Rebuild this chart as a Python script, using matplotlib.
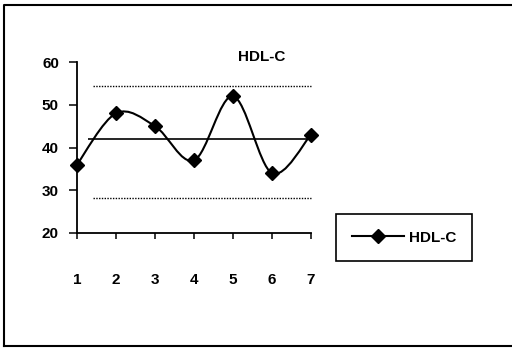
import matplotlib
matplotlib.use("Agg")
import matplotlib.pyplot as plt
import numpy as np
from matplotlib.path import Path
from matplotlib.patches import PathPatch
from matplotlib.lines import Line2D

plt.rcParams['font.family'] = ['Liberation Sans', 'DejaVu Sans']
plt.rcParams['font.weight'] = 'bold'

# data
visits = [1, 2, 3, 4, 5, 6, 7]
hdl = [36, 48, 45, 37, 52, 34, 43]
mean_line = 42.1
upper_limit = 54.5
lower_limit = 28.3
yticks = [20, 30, 40, 50, 60]

fig = plt.figure(figsize=(5.12, 3.51), dpi=100)
ax = fig.add_axes([77/512, 1-233/351, 234/512, 171/351])

# smoothed line: bezier segments like a spreadsheet "smoothed line"
x = np.array(visits, dtype=float)
y = np.array(hdl, dtype=float)
px = np.concatenate([[x[0]], x, [x[-1]]])
py = np.concatenate([[y[0]], y, [y[-1]]])
verts = [(x[0], y[0])]
codes = [Path.MOVETO]
for i in range(1, len(px) - 2):
    c1 = (px[i] + (px[i+1] - px[i-1]) / 6, py[i] + (py[i+1] - py[i-1]) / 6)
    c2 = (px[i+1] - (px[i+2] - px[i]) / 6, py[i+1] - (py[i+2] - py[i]) / 6)
    verts += [c1, c2, (px[i+1], py[i+1])]
    codes += [Path.CURVE4] * 3
ax.add_patch(PathPatch(Path(verts, codes), fill=False, edgecolor='black', lw=1.5,
                       clip_on=False))
ax.plot(visits, hdl, linestyle='none', marker='D', markersize=7, color='black',
        clip_on=False, zorder=5)

ax.hlines(mean_line, 1.28, 7.05, color='black', lw=1.2, clip_on=False)
ax.hlines([upper_limit, lower_limit], 1.41, 7.0, color='black', lw=1.0,
          linestyles=[(0, (1, 1))], clip_on=False)

ax.set_xlim(1, 7)
ax.set_ylim(20, 60)
ax.set_xticks(visits)
ax.set_yticks(yticks)
for s in ['top', 'right']:
    ax.spines[s].set_visible(False)
for s in ['left', 'bottom']:
    ax.spines[s].set_linewidth(1.3)
ax.tick_params(axis='y', direction='out', length=6, width=1.1, pad=7, labelsize=11)
ax.tick_params(axis='x', direction='out', length=4, width=1.1, pad=25, labelsize=11)

fig.text(262/512, 1-57/351, 'HDL-C', ha='center', va='center', fontsize=11)

handle = Line2D([], [], color='black', lw=1.5, marker='D', markersize=7)
leg = fig.legend([handle], ['HDL-C'], loc='center',
                 bbox_to_anchor=(404/512, 1-237.5/351), fontsize=11,
                 fancybox=False, edgecolor='black', framealpha=1,
                 handlelength=3.4, borderpad=1.05, handletextpad=0.3)
leg.get_frame().set_linewidth(1.2)

# outer frame (top, left, bottom)
fig.add_artist(Line2D([4/512, 4/512, 1.0], [1-346/351, 1-5/351, 1-5/351],
                      transform=fig.transFigure, color='black', lw=1.5))
fig.add_artist(Line2D([4/512, 1.0], [1-346/351, 1-346/351],
                      transform=fig.transFigure, color='black', lw=1.5))

fig.savefig('out.png', dpi=100)
